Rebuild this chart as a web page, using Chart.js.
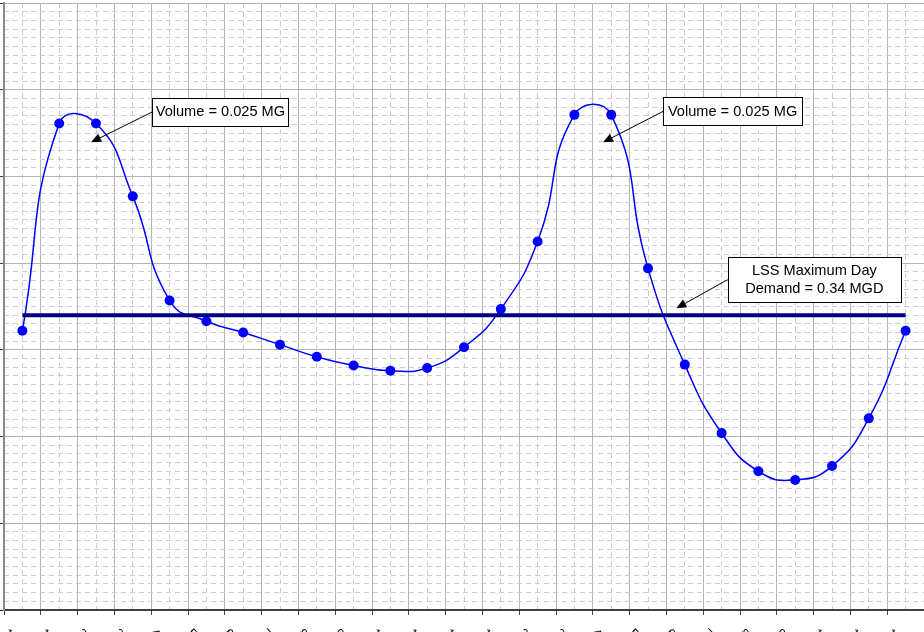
<!DOCTYPE html>
<html><head><meta charset="utf-8">
<script src="https://cdn.jsdelivr.net/npm/chart.js@4"></script>
<style>
html,body{margin:0;padding:0;background:#fff;overflow:hidden;width:924px;height:632px;position:relative}
#wrap{position:absolute;left:-56px;top:0;width:980px;height:680px}
</style>
</head><body>
<div id="wrap"><canvas id="c" width="980" height="680"></canvas></div>
<script>
// ---- data ----
const hours = ["12:00 AM","1:00 AM","2:00 AM","3:00 AM","4:00 AM","5:00 AM","6:00 AM","7:00 AM","8:00 AM","9:00 AM","10:00 AM","11:00 AM",
               "12:00 PM","1:00 PM","2:00 PM","3:00 PM","4:00 PM","5:00 PM","6:00 PM","7:00 PM","8:00 PM","9:00 PM","10:00 PM","11:00 PM","12:00 AM"];
const flowMGD = [0.322,0.561,0.561,0.477,0.357,0.333,0.320,0.306,0.292,0.282,0.276,0.279,
                 0.303,0.347,0.425,0.571,0.571,0.394,0.283,0.204,0.160,0.150,0.166,0.221,0.322];
const maxDayDemandMGD = 0.34;
const demandMGD = hours.map(() => maxDayDemandMGD);
const yTickValues = [0,0.1,0.2,0.3,0.4,0.5,0.6,0.7];
const yMin = 0, yMax = 0.7, yMinorStep = 0.01;
const notes = [
  {lines:["Volume = 0.025 MG"], box:[3.533,0.5744], tip:[1.867,0.5394], w:136, h:28},
  {lines:["Volume = 0.025 MG"], box:[17.41,0.5750], tip:[15.78,0.5394], w:139, h:28},
  {lines:["LSS Maximum Day","Demand = 0.34 MGD"], box:[19.17,0.3810], tip:[17.77,0.3480], w:173, h:45}
];
// ----------------
const yMinorTicks = [];
for (let k = 0; k <= Math.round((yMax - yMin) / yMinorStep); k++) yMinorTicks.push(+(yMin + k * yMinorStep).toFixed(2));

Chart.defaults.font.family = '"Liberation Sans", Arial, sans-serif';

const notePlugin = {
  id: 'notes',
  afterDatasetsDraw(chart) {
    const {ctx, scales:{x, y}} = chart;
    ctx.save();
    ctx.font = '14.6px "Liberation Sans", Arial, sans-serif';
    notes.forEach(n => {
      const bx = x.getPixelForValue(n.box[0]), by = y.getPixelForValue(n.box[1]);
      const tx = x.getPixelForValue(n.tip[0]), ty = y.getPixelForValue(n.tip[1]);
      const ang = Math.atan2(ty - by, tx - bx);
      const L = 10, W = 4.5;
      const baseX = tx - L * Math.cos(ang), baseY = ty - L * Math.sin(ang);
      ctx.strokeStyle = '#000'; ctx.lineWidth = 1;
      ctx.beginPath(); ctx.moveTo(bx, by); ctx.lineTo(baseX, baseY); ctx.stroke();
      ctx.fillStyle = '#000';
      ctx.beginPath();
      ctx.moveTo(tx, ty);
      ctx.lineTo(baseX + W * Math.sin(ang), baseY - W * Math.cos(ang));
      ctx.lineTo(baseX - W * Math.sin(ang), baseY + W * Math.cos(ang));
      ctx.closePath(); ctx.fill();
      const top = by - n.h / 2;
      ctx.fillStyle = '#fff';
      ctx.fillRect(bx, top, n.w, n.h);
      ctx.strokeRect(Math.round(bx) + 0.5, Math.round(top) + 0.5, Math.round(n.w), Math.round(n.h));
      ctx.fillStyle = '#000';
      ctx.textAlign = 'center'; ctx.textBaseline = 'middle';
      const lh = 17.6;
      const y0 = by - (n.lines.length - 1) * lh / 2;
      n.lines.forEach((t, i) => ctx.fillText(t, bx + n.w / 2, y0 + i * lh + 0.5));
    });
    ctx.restore();
  },
  afterDraw(chart) {
    const {ctx, scales:{x}} = chart;
    ctx.save();
    ctx.font = '12px "Liberation Sans", Arial, sans-serif';
    ctx.fillStyle = '#000'; ctx.textAlign = 'left'; ctx.textBaseline = 'top';
    hours.forEach((lab, i) => {
      ctx.save();
      ctx.translate(x.getPixelForTick(i) - 12.5, x.top + 17);
      ctx.rotate(Math.PI / 4);
      ctx.fillText(lab, 0, 0);
      ctx.restore();
    });
    ctx.restore();
  }
};

new Chart(document.getElementById('c'), {
  type: 'line',
  data: {
    labels: hours,
    datasets: [
      {label:'LSS Maximum Day Demand', data: demandMGD, borderColor:'#000080', borderWidth:4,
       pointRadius:0, tension:0, order:0, xAxisID:'x', yAxisID:'y'},
      {label:'Flow (MGD)', data: flowMGD, borderColor:'#0000FF', borderWidth:1.5,
       pointRadius:5, pointBackgroundColor:'#0000FF', pointBorderWidth:0, pointBorderColor:'#0000FF',
       tension:0.5, order:1, xAxisID:'x', yAxisID:'y'}
    ]
  },
  options: {
    responsive:false, animation:false,
    layout:{autoPadding:false, padding:{top:3, left:0, right:0, bottom:0}},
    plugins:{legend:{display:false}, tooltip:{enabled:false}},
    scales: {
      x: {type:'category', offset:true, position:'bottom',
          grid:{offset:true, color:'#b4b4b4', lineWidth:1, tickColor:'#404040', tickLength:5},
          border:{color:'#404040', width:2},
          ticks:{display:false},
          afterFit(s){ s.height = 70; s.paddingLeft = 0; s.paddingRight = 0; }},
      x2: {type:'category', labels: hours, offset:true, position:'bottom',
          grid:{offset:false, color:'#cdcdcd', lineWidth:1, drawTicks:false},
          border:{display:false, dash:[5,4]},
          ticks:{display:false},
          afterFit(s){ s.height = 0; s.paddingLeft = 0; s.paddingRight = 0; }},
      y: {type:'linear', min:yMin, max:yMax, position:'left',
          afterBuildTicks(s){ s.ticks = yTickValues.map(v => ({value:v})); },
          ticks:{callback: v => Number(v).toFixed(2), color:'#000', font:{size:12}},
          grid:{color:'#b4b4b4', lineWidth:1, tickColor:'#404040', tickLength:6},
          border:{color:'#8a8a8a', width:2},
          afterFit(s){ s.width = 60; s.paddingTop = 0; s.paddingBottom = 0; }},
      y2: {type:'linear', min:yMin, max:yMax, position:'left',
          afterBuildTicks(s){ s.ticks = yMinorTicks.map(v => ({value:v})); },
          grid:{color: c => (c.tick && Math.round(c.tick.value * 100) % 10 === 0) ? 'rgba(0,0,0,0)' : '#cdcdcd',
                lineWidth:1, drawTicks:false},
          border:{display:false, dash:[5,4]},
          ticks:{display:false},
          afterFit(s){ s.width = 0; s.paddingTop = 0; s.paddingBottom = 0; }}
    }
  },
  plugins:[notePlugin]
});
</script>
</body></html>
